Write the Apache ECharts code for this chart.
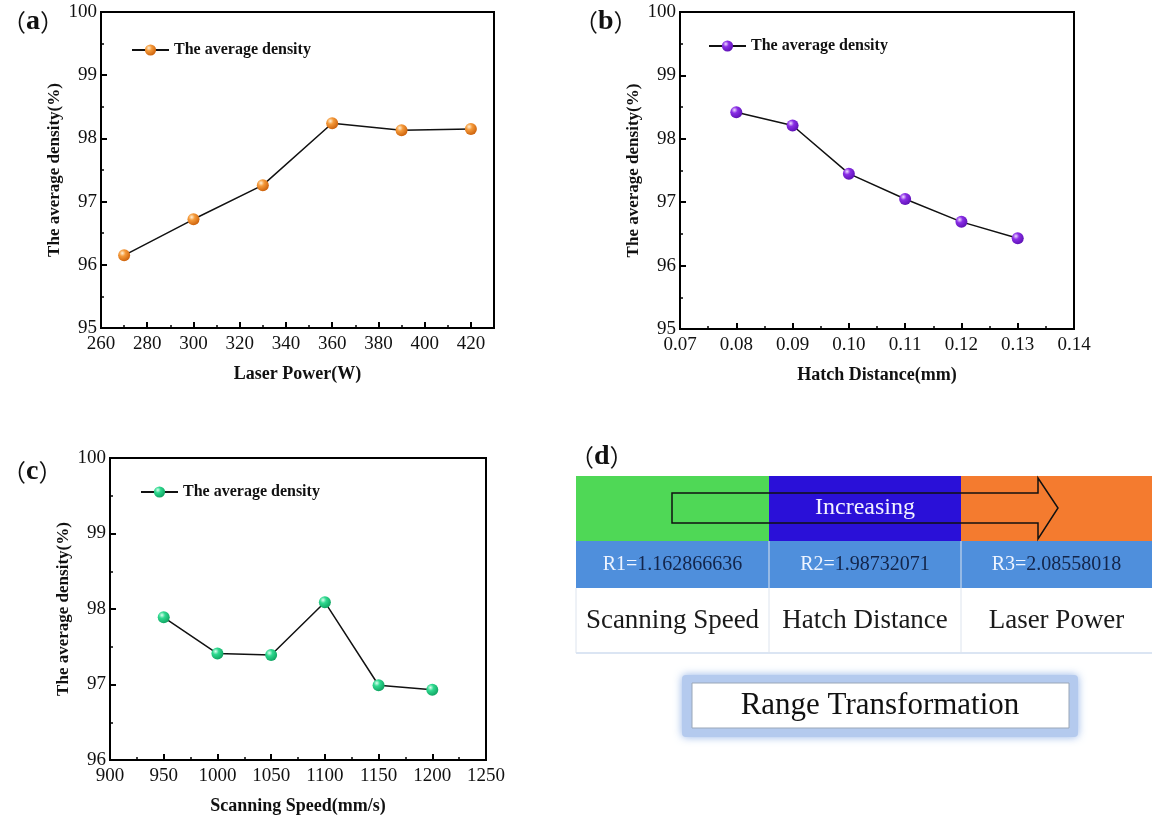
<!DOCTYPE html>
<html>
<head>
<meta charset="utf-8">
<script src="https://cdn.jsdelivr.net/npm/echarts@6/dist/echarts.min.js"></script>
<style>
html,body{margin:0;padding:0;background:#fff;}
#main{width:1152px;height:816px;}
</style>
</head>
<body>
<div id="main"></div>
<script>
// (a) laser power
var powerX = [270, 300, 330, 360, 390, 420];
var powerY = [96.15, 96.72, 97.26, 98.24, 98.13, 98.15];
// (b) hatch distance
var hatchX = [0.08, 0.09, 0.10, 0.11, 0.12, 0.13];
var hatchY = [98.42, 98.21, 97.45, 97.05, 96.69, 96.43];
// (c) scanning speed
var speedX = [950, 1000, 1050, 1100, 1150, 1200];
var speedY = [97.89, 97.41, 97.39, 98.09, 96.99, 96.93];
// (d) range table
var factorNames = ['Scanning Speed', 'Hatch Distance', 'Laser Power'];
var rangeKeys = ['R1=', 'R2=', 'R3='];
var rangeVals = ['1.162866636', '1.98732071', '2.08558018'];
var topColors = ['#4fd856', '#2a10d8', '#f47b2f'];

var serif = '"Liberation Serif", "Times New Roman", serif';
var legendName = 'The average density';

function ball(c0, c1, c2) {
	return {
		type: 'radial', x: 0.35, y: 0.32, r: 0.75,
		colorStops: [
			{ offset: 0, color: c0 },
			{ offset: 0.35, color: c1 },
			{ offset: 1, color: c2 }
		]
	};
}

function pair(xs, ys) {
	var out = [];
	for (var i = 0; i < xs.length; i++) {
		out.push([xs[i], ys[i]]);
	}
	return out;
}

function xAx(idx, min, max, interval, name, fmt, hideMax) {
	return {
		type: 'value', gridIndex: idx, min: min, max: max, interval: interval,
		name: name, nameLocation: 'middle', nameGap: 37,
		nameTextStyle: { fontFamily: serif, fontWeight: 'bold', fontSize: 18, color: '#111' },
		axisLine: { show: true, lineStyle: { color: '#000', width: 2 } },
		axisTick: { show: true, inside: true, length: 6, lineStyle: { color: '#000', width: 2 } },
		minorTick: { show: true, splitNumber: 2, length: 3, lineStyle: { color: '#000', width: 1.5 } },
		axisLabel: { fontFamily: serif, fontSize: 19, color: '#111', margin: 7, formatter: fmt, showMaxLabel: !hideMax },
		splitLine: { show: false }
	};
}

function yAx(idx, min, max) {
	return {
		type: 'value', gridIndex: idx, min: min, max: max, interval: 1,
		name: 'The average density(%)', nameLocation: 'middle', nameGap: 38,
		nameTextStyle: { fontFamily: serif, fontWeight: 'bold', fontSize: 17, color: '#111' },
		axisLine: { show: true, lineStyle: { color: '#000', width: 2 } },
		axisTick: { show: true, inside: true, length: 6, lineStyle: { color: '#000', width: 2 } },
		minorTick: { show: true, splitNumber: 2, length: 3, lineStyle: { color: '#000', width: 1.5 } },
		axisLabel: { fontFamily: serif, fontSize: 19, color: '#111', margin: 4 },
		splitLine: { show: false }
	};
}

function lineSeries(name, idx, data, color) {
	return {
		name: name, type: 'line', xAxisIndex: idx, yAxisIndex: idx,
		data: data, symbol: 'circle', symbolSize: 12,
		lineStyle: { color: '#111', width: 1.5 },
		itemStyle: { color: color, borderWidth: 0 }
	};
}

function legendAt(left, top, name) {
	return {
		data: [name], left: left, top: top, itemWidth: 37, itemHeight: 14, itemGap: 5,
		formatter: function () { return legendName; },
		textStyle: { fontFamily: serif, fontWeight: 'bold', fontSize: 16, color: '#111', padding: [0, 0, 0, 0] },
		selectedMode: false
	};
}

var orange = ball('#fff1d8', '#f59a3a', '#c95d08');
var purple = ball('#efdcff', '#8a2ee6', '#5a0fb0');
var green = ball('#dcfff0', '#2fd98f', '#0e9f5e');

function plain(v) { return String(v); }

// panel (d) graphics
var colLeft = [576, 769, 961];
var colW = [193, 192, 191];
var gfx = [];
var panelLabel = function (letter, x, y) {
	return {
		type: 'text', left: x, top: y,
		style: {
			text: '{p|（}{l|' + letter + '}{p|）}',
			rich: {
				p: { fontFamily: '"Noto Sans CJK SC"', fontSize: 24, fill: '#111' },
				l: { fontFamily: serif, fontWeight: 'bold', fontSize: 28, fill: '#111' }
			}
		}
	};
};
gfx.push(panelLabel('a', 2, 8));
gfx.push(panelLabel('b', 574, 8));
gfx.push(panelLabel('c', 2, 458));
gfx.push(panelLabel('d', 570, 443));

for (var i = 0; i < 3; i++) {
	gfx.push({ type: 'rect', shape: { x: colLeft[i], y: 476, width: colW[i], height: 65 }, style: { fill: topColors[i] } });
	gfx.push({ type: 'rect', shape: { x: colLeft[i], y: 541, width: colW[i], height: 47 }, style: { fill: '#4f8fdc' } });
	gfx.push({
		type: 'text', x: colLeft[i] + colW[i] / 2, y: 565,
		style: {
			text: '{k|' + rangeKeys[i] + '}{v|' + rangeVals[i] + '}', align: 'center', verticalAlign: 'middle',
			rich: {
				k: { fontFamily: serif, fontSize: 20, fill: '#eef4ff' },
				v: { fontFamily: serif, fontSize: 20, fill: '#13254a' }
			}
		}
	});
	gfx.push({
		type: 'text', x: colLeft[i] + colW[i] / 2, y: 621,
		style: { text: factorNames[i], align: 'center', verticalAlign: 'middle', fontFamily: serif, fontSize: 27, fill: '#1a1a1a' }
	});
}
// light separators in the white row
gfx.push({ type: 'line', shape: { x1: 576, y1: 653, x2: 1152, y2: 653 }, style: { stroke: '#cfdcef', lineWidth: 1.5 } });
gfx.push({ type: 'line', shape: { x1: 576, y1: 588, x2: 576, y2: 653 }, style: { stroke: '#dde4ee', lineWidth: 1 } });
gfx.push({ type: 'line', shape: { x1: 769, y1: 541, x2: 769, y2: 653 }, style: { stroke: '#dde4ee', lineWidth: 1 } });
gfx.push({ type: 'line', shape: { x1: 961, y1: 541, x2: 961, y2: 653 }, style: { stroke: '#dde4ee', lineWidth: 1 } });
// arrow
gfx.push({
	type: 'polygon',
	shape: { points: [[672, 493], [1038, 493], [1038, 478], [1058, 508], [1038, 539], [1038, 523], [672, 523]] },
	style: { fill: 'none', stroke: '#111', lineWidth: 1.5 }
});
gfx.push({
	type: 'text', x: 865, y: 508,
	style: { text: 'Increasing', align: 'center', verticalAlign: 'middle', fontFamily: serif, fontSize: 24, fill: '#f2f2ff' }
});
// range transformation box
gfx.push({
	type: 'rect', shape: { x: 682, y: 675, width: 396, height: 62, r: 4 },
	style: { fill: '#b4caee', shadowBlur: 8, shadowColor: 'rgba(120,160,225,0.8)' }
});
gfx.push({
	type: 'rect', shape: { x: 692, y: 683, width: 377, height: 45 },
	style: { fill: '#fff', stroke: '#9aa7b8', lineWidth: 1 }
});
gfx.push({
	type: 'text', x: 880, y: 706,
	style: { text: 'Range Transformation', align: 'center', verticalAlign: 'middle', fontFamily: serif, fontSize: 31, fill: '#111' }
});

var myChart = echarts.init(document.getElementById('main'));

var option = {
	backgroundColor: '#fff',
	animation: false,
	grid: [
		{ left: 101, top: 12, width: 393, height: 316, show: true, borderColor: '#000', borderWidth: 2, backgroundColor: 'transparent' },
		{ left: 680, top: 12, width: 394, height: 317, show: true, borderColor: '#000', borderWidth: 2, backgroundColor: 'transparent' },
		{ left: 110, top: 458, width: 376, height: 304, show: true, borderColor: '#000', borderWidth: 2, backgroundColor: 'transparent' }
	],
	xAxis: [
		xAx(0, 260, 430, 20, 'Laser Power(W)', plain, true),
		xAx(1, 0.07, 0.14, 0.01, 'Hatch Distance(mm)', function (v) { return v.toFixed(2); }, false),
		xAx(2, 900, 1250, 50, 'Scanning Speed(mm/s)', plain, false)
	],
	yAxis: [yAx(0, 95, 100), yAx(1, 95, 100), yAx(2, 96, 100)],
	legend: [
		legendAt(126, 37, 'a'),
		legendAt(703, 33, 'b'),
		legendAt(135, 479, 'c')
	],
	series: [
		lineSeries('a', 0, pair(powerX, powerY), orange),
		lineSeries('b', 1, pair(hatchX, hatchY), purple),
		lineSeries('c', 2, pair(speedX, speedY), green)
	],
	graphic: gfx
};

myChart.setOption(option);
</script>
</body>
</html>
